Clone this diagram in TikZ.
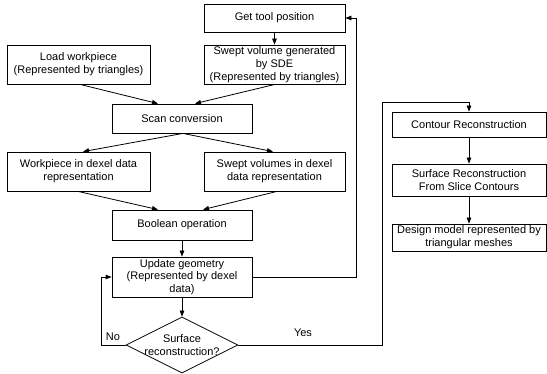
\documentclass[tikz,border=0pt]{standalone}
\usepackage{fontspec}
\setmainfont{Liberation Sans}
\usepackage{tikz}
\usetikzlibrary{shapes}
\usetikzlibrary{calc}
\usetikzlibrary{arrows.meta}

\begin{document}
\begin{tikzpicture}[x=1pt, y=-1pt, font=\fontsize{11}{12.8}\selectfont]
\tikzstyle{box}  = [rectangle, draw, line width=0.8pt, align=center, inner sep=0pt]
\tikzstyle{flow} = [line width=0.8pt, -{Triangle[length=6pt, width=4.5pt]}]
\useasboundingbox (0, 0) rectangle (547, 374);
\node [box, minimum width=141pt, minimum height=28pt](gettool) at (274.5, 18) {Get tool position};
\node [box, minimum width=141pt, minimum height=39pt](swept) at (274.5, 64.5) {Swept volume generated\\by SDE\\(Represented by triangles)};
\node [box, minimum width=143pt, minimum height=39pt](load) at (78.5, 64.5) {Load workpiece\\(Represented by triangles)};
\node [box, minimum width=140pt, minimum height=29pt](scan) at (182, 118.5) {Scan conversion};
\node [box, minimum width=143pt, minimum height=39pt](wpdexel) at (78.5, 171.5) {Workpiece in dexel data\\representation};
\node [box, minimum width=141pt, minimum height=39pt](svdexel) at (274.5, 171.5) {Swept volumes in dexel\\data representation};
\node [box, minimum width=140pt, minimum height=30pt](boolean) at (182, 225) {Boolean operation};
\node [box, minimum width=140pt, minimum height=40pt](update) at (182, 277) {Update geometry\\(Represented by dexel\\data)};
\node [diamond, draw, line width=0.8pt, inner sep=0pt, minimum width=112pt, minimum height=56pt](decide) at (182, 345) {};
\node [align=center](decidetext) at (decide) {Surface\\reconstruction?};
\node [box, minimum width=154pt, minimum height=25pt](contour) at (469, 124.5) {Contour Reconstruction};
\node [box, minimum width=154pt, minimum height=32pt](surfrec) at (469, 180) {Surface Reconstruction\\From Slice Contours};
\node [box, minimum width=154pt, minimum height=27pt](design) at (469, 237.5) {Design model represented by\\triangular meshes};
\node (nolabel) at (113, 337) {No};
\node (yeslabel) at (303, 333) {Yes};
\coordinate (nocorner) at (101, 345);
\coordinate (backcorner) at (356, 277);
\coordinate (yescorner) at (382, 102);
 %%Edges
\draw [flow] (gettool)--(swept);
\draw [flow] ($(load.south) + (1.5, 0)$)--($(scan.north) + (-24, 0)$);
\draw [flow] ($(swept.south) + (0.5, 0)$)--($(scan.north) + (13, 0)$);
\draw [flow] ($(scan.south) + (1, 0)$)--($(wpdexel.north) + (4.5, 0)$);
\draw [flow] ($(scan.south) + (1, 0)$)--($(svdexel.north) + (-1.5, 0)$);
\draw [flow] ($(wpdexel.south) + (-0.5, 0)$)--($(boolean.north) + (-24, 0)$);
\draw [flow] ($(svdexel.south) + (2.5, 0)$)--($(boolean.north) + (21, 0)$);
\draw [flow] (boolean)--(update);
\draw [flow] (update)--(decide);
\draw [flow] (decide.west)--(nocorner) |- (update.west);
\draw [flow] (update.east)--(backcorner) |- (gettool.east);
\draw [flow] (decide.east) -| (yescorner) -| (contour.north);
\draw [flow] (contour)--(surfrec);
\draw [flow] (surfrec)--(design);
\end{tikzpicture}
\end{document}
